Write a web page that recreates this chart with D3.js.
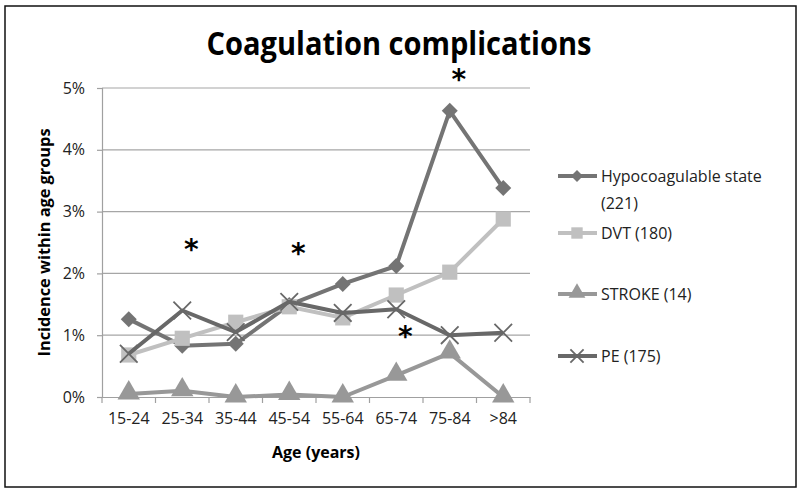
<!DOCTYPE html>
<html>
<head>
<meta charset="utf-8">
<script src="https://cdn.jsdelivr.net/npm/d3@7"></script>
<style>
  body { margin: 0; background: #fff; }
  svg { font-family: "Open Sans", "Liberation Sans", sans-serif; }
</style>
</head>
<body>
<div id="chart"></div>
<script>
const ageGroups = ["15-24", "25-34", "35-44", "45-54", "55-64", "65-74", "75-84", ">84"]
const hypo = [1.26, 0.83, 0.86, 1.49, 1.83, 2.12, 4.63, 3.38]
const dvt = [0.68, 0.95, 1.21, 1.46, 1.28, 1.65, 2.02, 2.88]
const stroke = [0.05, 0.1, 0.0, 0.04, 0.0, 0.35, 0.71, 0.0]
const pe = [0.7, 1.4, 1.05, 1.54, 1.36, 1.42, 1.0, 1.04]
const yTicks = [0, 1, 2, 3, 4, 5]
// significance marks: [age group, level in %]
const stars = [["25-34", 2.5], ["45-54", 2.42], ["65-74", 1.08], ["75-84", 5.25]]

const series = [
  { name: ["Hypocoagulable state", "(221)"], values: hypo, color: "#747474", marker: "diamond" },
  { name: ["DVT (180)"], values: dvt, color: "#c0c0c0", marker: "square" },
  { name: ["STROKE (14)"], values: stroke, color: "#989898", marker: "triangle" },
  { name: ["PE (175)"], values: pe, color: "#686868", marker: "cross" }
]

const width = 800, height = 494
const margin = { top: 88, right: 270, bottom: 97, left: 102 }

const svg = d3.select("#chart").append("svg")
    .attr("width", width).attr("height", height)

svg.append("rect")
    .attr("x", 5).attr("y", 6).attr("width", 791).attr("height", 481)
    .attr("fill", "#fff").attr("stroke", "#111").attr("stroke-width", 1.5)

const x = d3.scaleBand().domain(ageGroups).range([margin.left, width - margin.right])
const y = d3.scaleLinear().domain([0, 5]).range([height - margin.bottom, margin.top])
const cx = d => x(d) + x.bandwidth() / 2

// gridlines
svg.append("g")
  .selectAll("line")
  .data(yTicks.slice(1))
  .enter().append("line")
    .attr("x1", margin.left).attr("x2", width - margin.right)
    .attr("y1", d => y(d)).attr("y2", d => y(d))
    .attr("stroke", "#a6a6a6").attr("stroke-width", 1.2)

// y axis
const yAxis = svg.append("g")
    .attr("transform", "translate(" + margin.left + ",0)")
    .call(d3.axisLeft(y).tickValues(yTicks).tickFormat(d => d + "%").tickSize(5).tickPadding(12))
yAxis.selectAll("path, line").attr("stroke", "#a0a0a0").attr("stroke-width", 1.2)
yAxis.selectAll("text").attr("font-size", 16).attr("fill", "#222").style("font-family", "Open Sans")

// x axis
const xAxis = svg.append("g")
    .attr("transform", "translate(0," + y(0) + ")")
    .call(d3.axisBottom(x).tickSize(0).tickPadding(16))
xAxis.select("path").attr("stroke", "#a0a0a0").attr("stroke-width", 1.2)
xAxis.selectAll("text").attr("font-size", 16).attr("fill", "#222").style("font-family", "Open Sans")
svg.append("g")
  .selectAll("line")
  .data(d3.range(ageGroups.length + 1))
  .enter().append("line")
    .attr("x1", i => margin.left + i * x.step()).attr("x2", i => margin.left + i * x.step())
    .attr("y1", y(0)).attr("y2", y(0) + 6)
    .attr("stroke", "#a0a0a0").attr("stroke-width", 1.2)

// titles
svg.append("text")
    .attr("x", 399).attr("y", 55)
    .attr("text-anchor", "middle")
    .attr("font-size", 33).attr("font-weight", "bold")
    .attr("textLength", 385).attr("lengthAdjust", "spacingAndGlyphs")
    .text("Coagulation complications")

svg.append("text")
    .attr("x", 316).attr("y", 458)
    .attr("text-anchor", "middle")
    .attr("font-size", 16).attr("font-weight", "bold")
    .text("Age (years)")

svg.append("text")
    .attr("transform", "translate(50," + ((y(0) + y(5)) / 2) + ") rotate(-90)")
    .attr("text-anchor", "middle")
    .attr("font-size", 16).attr("font-weight", "bold")
    .attr("textLength", 228).attr("lengthAdjust", "spacingAndGlyphs")
    .text("Incidence within age groups")

// marker drawing
function drawMarker(g, type, color, s) {
  if (type === "cross") {
    const r = s * 0.55
    g.append("path")
        .attr("d", "M" + (-r) + "," + (-r) + "L" + r + "," + r + "M" + (-r) + "," + r + "L" + r + "," + (-r))
        .attr("stroke", color).attr("stroke-width", 1.8).attr("fill", "none")
    return
  }
  if (type === "diamond") {
    const r = s * 0.5
    g.append("path")
        .attr("d", "M0," + (-r) + "L" + r + ",0L0," + r + "L" + (-r) + ",0Z")
        .attr("fill", color)
    return
  }
  const sym = type === "square" ? d3.symbolSquare : d3.symbolTriangle
  const area = type === "square" ? s * s * 0.9 : s * s * 0.85
  g.append("path")
      .attr("d", d3.symbol().type(sym).size(area)())
      .attr("fill", color)
      .attr("transform", type === "triangle" ? "translate(0,-1)" : null)
}

const line = d3.line().x((d, i) => cx(ageGroups[i])).y(d => y(d))

series.forEach(s => {
  const g = svg.append("g")
  g.append("path")
      .datum(s.values)
      .attr("d", line)
      .attr("fill", "none")
      .attr("stroke", s.color)
      .attr("stroke-width", 4)
      .attr("stroke-linejoin", "round")
  s.values.forEach((v, i) => {
    const m = g.append("g").attr("transform", "translate(" + cx(ageGroups[i]) + "," + y(v) + ")")
    drawMarker(m, s.marker, s.color, 16)
  })
})

// stars
svg.append("g")
  .selectAll("text")
  .data(stars)
  .enter().append("text")
    .attr("x", d => cx(d[0]) + 9)
    .attr("y", d => y(d[1]) + 16)
    .attr("text-anchor", "middle")
    .attr("font-size", 28).attr("font-weight", "bold")
    .style("font-family", "DejaVu Sans")
    .text("*")

// legend
const legendRows = [176, 233, 294, 356]
const legend = svg.append("g")
series.forEach((s, i) => {
  const g = legend.append("g").attr("transform", "translate(0," + legendRows[i] + ")")
  g.append("line")
      .attr("x1", 558).attr("x2", 597)
      .attr("stroke", s.color).attr("stroke-width", 4)
  const m = g.append("g").attr("transform", "translate(577,0)")
  drawMarker(m, s.marker, s.color, 12)
  g.selectAll("text")
    .data(s.name)
    .enter().append("text")
      .attr("x", 601)
      .attr("y", (d, j) => 6 + j * 27)
      .attr("font-size", 16).attr("fill", "#222")
      .text(d => d)
})
</script>
</body>
</html>
